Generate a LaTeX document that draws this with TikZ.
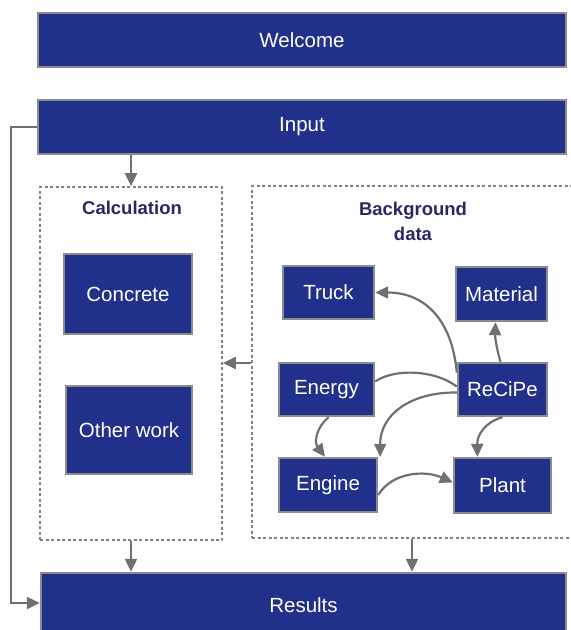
\documentclass[tikz,border=0pt]{standalone}
\usepackage{fontspec}
\setmainfont{Liberation Sans}
\usetikzlibrary{arrows.meta,calc}
\definecolor{navy}{RGB}{33,48,138}
\definecolor{rimgray}{RGB}{140,140,140}
\definecolor{dashgray}{RGB}{130,130,130}
\definecolor{arrowgray}{RGB}{112,112,112}
\definecolor{titleblue}{RGB}{40,40,100}
\begin{document}
\begin{tikzpicture}[x=1pt,y=-1pt,
  blk/.style={draw=rimgray, line width=2.4pt, fill=navy, text=white,
    font=\fontsize{20.5}{23}\selectfont, inner sep=0pt},
  grp/.style={draw=dashgray, line width=1.7pt, dash pattern=on 3pt off 2.5pt, inner sep=0pt},
  conn/.style={draw=arrowgray, line width=2.2pt},
  tip/.style={-{Triangle[length=13pt,width=12pt]}},
  grptitle/.style={text=titleblue, font=\bfseries\fontsize{18.5}{25}\selectfont, align=center}]
\useasboundingbox (0,0) rectangle (571,630);

% main stages
\node[blk, minimum width=528pt, minimum height=54pt] (welcome) at (302,40) {Welcome};
\node[blk, minimum width=528pt, minimum height=54pt] (input) at (302,127) {Input};
\node[blk, minimum width=525pt, minimum height=64pt] (results) at (303.5,605) {Results};

% dashed groups
\node[grp, minimum width=182pt, minimum height=353pt] (calc) at (131,363.5) {};
\node[grp, minimum width=320pt, minimum height=352pt] (bg) at (412,362) {};
\node[grptitle] (calct) at (132,208) {Calculation};
\node[grptitle] (bgt) at (413,221) {Background\\data};

% calculation blocks
\node[blk, minimum width=128pt, minimum height=80pt] (concrete) at (128,294) {Concrete};
\node[blk, minimum width=126pt, minimum height=88pt] (other) at (129,430) {Other work};

% background data blocks
\node[blk, minimum width=91pt, minimum height=53pt] (truck) at (328.5,292.5) {Truck};
\node[blk, minimum width=91pt, minimum height=54pt] (material) at (501.5,294) {Material};
\node[blk, minimum width=95pt, minimum height=53pt] (energy) at (326.5,389.5) {Energy};
\node[blk, minimum width=89pt, minimum height=53pt] (recipe) at (502.5,389.5) {ReCiPe};
\node[blk, minimum width=98pt, minimum height=54pt] (engine) at (328,485) {Engine};
\node[blk, minimum width=97pt, minimum height=55pt] (plant) at (502.5,485.5) {Plant};

% flow between stages
\coordinate (lx) at (11,0);
\coordinate (my) at (0,363);
\draw[conn,tip] (input.west) -- (input.west -| lx) |- ([yshift=2pt]results.west);
\draw[conn,tip] (input.south -| calc.north) -- (calc.north);
\draw[conn,tip] (calc.south) -- (calc.south |- results.north);
\draw[conn,tip] (bg.south) -- (bg.south |- results.north);
\draw[conn,tip] (bg.west |- my) -- (calc.east |- my);

% links among background data
\draw[conn,tip] ([yshift=17pt]recipe.west) .. controls (452,320) and (425,292.5) .. (truck.east);
\draw[conn,tip] ([xshift=-2pt]recipe.north) .. controls (497,350) and (495,338) .. ([xshift=-6pt]material.south);
\draw[conn] ([yshift=8pt]energy.east) .. controls (395,368) and (435,370) .. ([yshift=3pt]recipe.west);
\draw[conn,tip] ([yshift=-3pt]recipe.west) .. controls (410,392) and (380,415) .. ([xshift=2pt]engine.north east);
\draw[conn,tip] ([xshift=2pt]energy.south) .. controls (316,428) and (314,442) .. ([xshift=-3pt]engine.north);
\draw[conn,tip] (recipe.south) .. controls (485,422) and (477,435) .. ([xshift=-25pt]plant.north);
\draw[conn,tip] ([yshift=-10pt]engine.east) .. controls (392,472) and (425,470) .. ([yshift=3pt]plant.west);
\end{tikzpicture}
\end{document}
